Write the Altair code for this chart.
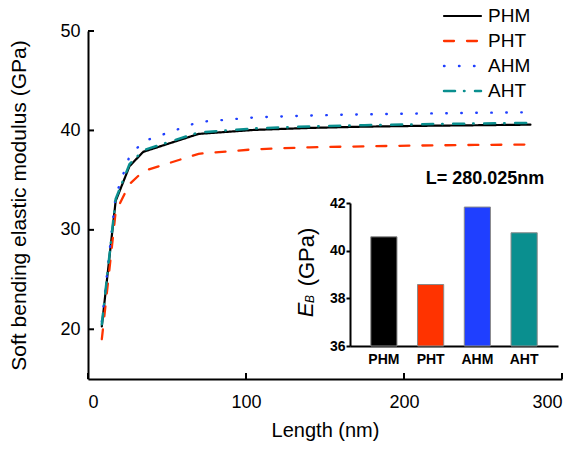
import altair as alt
import pandas as pd

# Nanotube lengths (nm) and soft bending elastic modulus (GPa) for each model
lengths = [8.75, 17.5, 26.25, 35, 70, 105, 140, 175, 210, 245, 280.025]
phm = [20.3, 32.9, 36.4, 37.85, 39.65, 40.05, 40.25, 40.38, 40.46, 40.52, 40.58]
pht = [19.0, 31.8, 34.6, 35.9, 37.65, 38.1, 38.3, 38.4, 38.48, 38.54, 38.58]
ahm = [20.8, 33.4, 37.4, 38.9, 40.85, 41.3, 41.5, 41.62, 41.7, 41.77, 41.83]
aht = [20.5, 33.1, 36.6, 38.0, 39.8, 40.2, 40.4, 40.53, 40.62, 40.7, 40.75]

series_names = ["PHM", "PHT", "AHM", "AHT"]

# Moduli at the longest length, shown in the inset bar chart
bar_values = [40.58, 38.58, 41.83, 40.75]

x_ticks = [0, 100, 200, 300]
y_ticks = [20, 30, 40, 50]
inset_ticks = [36, 38, 40, 42]

W, H = 474, 348
FONT = "Liberation Sans"

rows = []
for name, vals in zip(series_names, [phm, pht, ahm, aht]):
    for length, v in zip(lengths, vals):
        rows.append({"series": name, "length": length, "modulus": v})
curves = pd.DataFrame(rows)
bars_df = pd.DataFrame({"series": series_names, "E": bar_values})
legend_df = pd.DataFrame({"series": series_names})

line_colors = ["#000000", "#ff3300", "#1f3fff", "#0a8f8f"]
bar_colors = ["#000000", "#ff2200", "#0a35ff", "#008b8b"]
# dash patterns are drawn with round caps, so dashes grow by the stroke width
dashes = [[1, 0], [10, 13], [0.5, 14.5], [11, 9, 0.5, 10.5]]
widths = [2.2, 2.5, 3.2, 3.0]

color_scale = alt.Scale(domain=series_names, range=line_colors)
dash_scale = alt.Scale(domain=series_names, range=dashes)
width_scale = alt.Scale(domain=series_names, range=widths)

x_scale = alt.Scale(domain=[0, 300], nice=False)
y_scale = alt.Scale(domain=[15, 50], nice=False, zero=False)

x_axis = alt.Axis(
    values=x_ticks, ticks=False, grid=False, domainWidth=2, domainColor="black",
    labelFont=FONT, labelFontSize=18, labelColor="black", labelPadding=14,
    title="Length (nm)", titleFont=FONT, titleFontSize=20, titleFontWeight="normal",
    titleColor="black", titlePadding=9,
)
y_axis = alt.Axis(
    values=y_ticks, ticks=False, grid=False, domainWidth=2, domainColor="black",
    labelFont=FONT, labelFontSize=18, labelColor="black", labelPadding=8,
    title="Soft bending elastic modulus (GPa)", titleFont=FONT, titleFontSize=21,
    titleFontWeight="normal", titleColor="black", titlePadding=30,
)


def series_layer(name):
    # one layer per curve keeps the drawing order PHM, PHT, AHM, AHT
    return (
        alt.Chart(curves)
        .transform_filter(alt.datum.series == name)
        .mark_line(strokeCap="round")
        .encode(
            x=alt.X("length:Q", scale=x_scale, axis=x_axis),
            y=alt.Y("modulus:Q", scale=y_scale, axis=y_axis),
            color=alt.Color("series:N", scale=color_scale, legend=None),
            strokeDash=alt.StrokeDash("series:N", scale=dash_scale, legend=None),
            strokeWidth=alt.StrokeWidth("series:N", scale=width_scale, legend=None),
        )
    )


# Inward-pointing ticks on the main axes
x_tick_marks = (
    alt.Chart(pd.DataFrame({"length": x_ticks}))
    .mark_rule(color="black", strokeWidth=2)
    .encode(x=alt.X("length:Q", scale=x_scale, axis=x_axis), y=alt.value(H - 6), y2=alt.value(H))
)
y_tick_marks = (
    alt.Chart(pd.DataFrame({"modulus": y_ticks}))
    .mark_rule(color="black", strokeWidth=2)
    .encode(y=alt.Y("modulus:Q", scale=y_scale, axis=y_axis), x=alt.value(0), x2=alt.value(6))
)

main = alt.layer(*[series_layer(n) for n in series_names], x_tick_marks, y_tick_marks)

# Legend: a short line sample and the series name per row
# (point scale keeps half a step of padding at each end, rows are 25 px apart)
legend_y = alt.Y(
    "series:N",
    scale=alt.Scale(type="point", domain=series_names, range=[-27.5, 72.5]),
    axis=None,
)
legend_lines = (
    alt.Chart(legend_df)
    .mark_rule(strokeCap="round")
    .encode(
        y=legend_y,
        x=alt.value(356), x2=alt.value(393),
        color=alt.Color("series:N", scale=color_scale, legend=None),
        strokeDash=alt.StrokeDash("series:N", scale=dash_scale, legend=None),
        strokeWidth=alt.StrokeWidth("series:N", scale=width_scale, legend=None),
    )
)
legend_text = (
    alt.Chart(legend_df)
    .mark_text(font=FONT, fontSize=19, color="black", align="left", baseline="middle")
    .encode(y=legend_y, x=alt.value(400), text="series:N")
)
legend = alt.layer(legend_lines, legend_text)

# Inset bar chart
inset = (
    alt.Chart(bars_df)
    .mark_bar(stroke="#8a8a8a", strokeWidth=1)
    .encode(
        x=alt.X(
            "series:N", sort=series_names,
            scale=alt.Scale(range=[262, 470], paddingInner=0.44, paddingOuter=0.445),
            axis=alt.Axis(
                orient="bottom", offset=-33, title=None, labelAngle=0, ticks=False,
                domainWidth=2, domainColor="black", labelFont=FONT, labelFontSize=14,
                labelFontWeight="bold", labelColor="black", labelPadding=6, grid=False,
            ),
        ),
        y=alt.Y(
            "E:Q",
            scale=alt.Scale(domain=[36, 42], range=[315, 172], nice=False, zero=False),
            axis=alt.Axis(
                orient="left", offset=-262, values=inset_ticks, title=None,
                tickSize=4, tickWidth=2, tickColor="black", domainWidth=2, domainColor="black",
                labelFont=FONT, labelFontSize=14, labelFontWeight="bold", labelColor="black",
                labelPadding=1, grid=False,
            ),
        ),
        y2=alt.datum(36),
        color=alt.Color("series:N", scale=alt.Scale(domain=series_names, range=bar_colors), legend=None),
    )
)

one = alt.Data(values=[{}])
e_text = alt.Chart(one).mark_text(
    text="E", font=FONT, fontSize=22, fontStyle="italic", angle=270, color="black",
    align="center", baseline="middle",
).encode(x=alt.value(218), y=alt.value(279))
b_text = alt.Chart(one).mark_text(
    text="B", font=FONT, fontSize=12, fontStyle="italic", angle=270, color="black",
    align="center", baseline="middle",
).encode(x=alt.value(222), y=alt.value(268))
gpa_text = alt.Chart(one).mark_text(
    text="(GPa)", font=FONT, fontSize=22, angle=270, color="black",
    align="center", baseline="middle",
).encode(x=alt.value(219), y=alt.value(226))
l_text = alt.Chart(one).mark_text(
    text="L= 280.025nm", font=FONT, fontSize=18, fontWeight="bold", color="black",
    align="center", baseline="middle",
).encode(x=alt.value(397), y=alt.value(148))

chart = (
    alt.layer(main, legend, inset, e_text, b_text, gpa_text, l_text)
    .resolve_scale(x="independent", y="independent")
    .properties(
        width=W, height=H, autosize="none", background="white",
        padding={"left": 88, "top": 31, "right": 17, "bottom": 72},
    )
    .configure_view(stroke=None)
)

chart.save("out.html", embed_options={"renderer": "svg", "actions": False})
